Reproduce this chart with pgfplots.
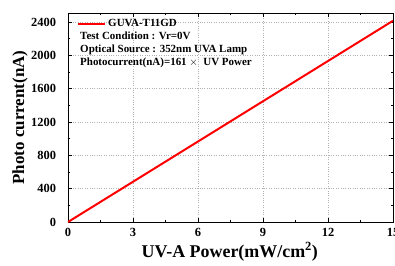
\documentclass[border=0pt]{standalone}
\usepackage{pgfplots}
\pgfplotsset{compat=1.18}
\usetikzlibrary{calc}
\usepackage{fontspec}
\setmainfont{Liberation Serif}
\begin{document}
\begin{tikzpicture}
\begin{axis}[
  scale only axis,
  width=325bp, height=209bp,
  xmin=0, xmax=15, ymin=0, ymax=2508,
  xtick={0,3,6,9,12,15},
  ytick={0,400,800,1200,1600,2000,2400},
  minor x tick num=1, minor y tick num=1,
  tick align=inside,
  major tick length=4.5bp, minor tick length=2.5bp,
  grid=major,
  major grid style={dotted, gray!60},
  axis line style={line width=1pt},
  every tick/.style={black, line width=0.8pt},
  tick label style={font=\bfseries\fontsize{12.5}{13}\selectfont},
  yticklabel style={xshift=-8.5bp},
  xticklabel style={yshift=-3bp},
  /pgf/number format/assume math mode=true,
  /pgf/number format/set thousands separator={},
  xlabel={UV-A Power(mW/cm$^{\mathbf{2}}$)},
  ylabel={Photo current(nA)},
  xlabel style={font=\bfseries\fontsize{18}{20}\selectfont, at={(axis description cs:0.498,-0.1675)}, anchor=base},
  ylabel style={font=\bfseries\fontsize{17}{19}\selectfont, at={(axis description cs:-0.1477,0.5)}, anchor=center},
  legend style={draw=none, fill=none, at={(axis description cs:0.018,0.99)}, anchor=north west,
    font=\bfseries\fontsize{11}{12.7}\selectfont, row sep=0bp,
    cells={anchor=west}},
  legend cell align=left,
  legend image code/.code={\draw[red, line width=2.2pt] (0bp,0bp) -- (27bp,0bp);},
]
\addplot[red, line width=2pt] coordinates {(0,0) (15,2415)};
\addlegendentry{GUVA-T11GD}
\addlegendimage{empty legend}\addlegendentry{\hspace{-28bp}Test Condition : Vr=0V}
\addlegendimage{empty legend}\addlegendentry{\hspace{-28bp}Optical Source : 352nm UVA Lamp}
\addlegendimage{empty legend}\addlegendentry{\hspace{-28bp}Photocurrent(nA)=161 $\times$\ \ UV Power}
\end{axis}
\pgfresetboundingbox
\useasboundingbox ($(current axis.south west)+(-68bp,-44bp)$) rectangle ($(current axis.north east)+(2bp,13bp)$);
\end{tikzpicture}
\end{document}
